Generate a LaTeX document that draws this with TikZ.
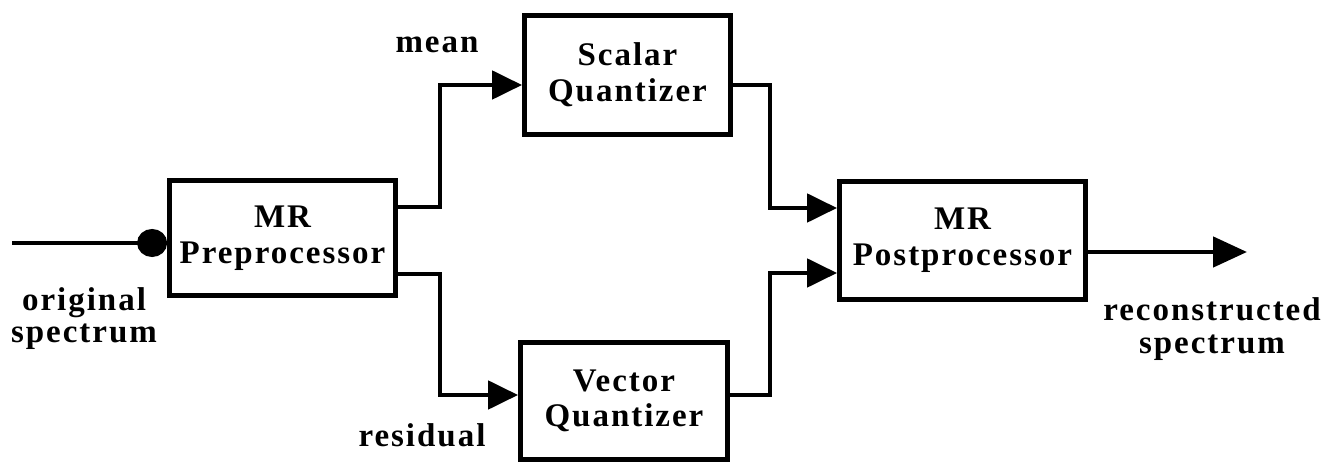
\documentclass[tikz,border=0pt]{standalone}
\usepackage{fontspec}
\setmainfont{Liberation Serif}[LetterSpace=6]
\usetikzlibrary{arrows.meta}

\tikzset{
  wire/.style={line width=2.4pt, line join=miter},
  arr/.style={wire, -{Triangle[length=15pt,width=14pt]}},
  bigarr/.style={wire, -{Triangle[length=17pt,width=15pt]}},
  dotarr/.style={wire, -{Circle[length=15pt,width=14pt]}},
  block/.style={draw, line width=2.4pt, align=center, inner sep=0pt,
    font=\fontsize{16.5pt}{17.8pt}\selectfont\bfseries},
  lbl/.style={align=center, inner sep=0pt,
    font=\fontsize{16.5pt}{16.3pt}\selectfont\bfseries}
}

\begin{document}
\begin{tikzpicture}[x=0.5pt, y=-0.5pt]
  \useasboundingbox (0,0) rectangle (1334,464);

  % processing blocks
  \node[block, minimum width=113pt, minimum height=57.5pt] (pre) at (282.5,238) {MR\\Preprocessor};
  \node[block, minimum width=103pt, minimum height=59.5pt] (sq) at (627.5,75) {Scalar\\Quantizer};
  \node[block, minimum width=103.5pt, minimum height=58.5pt] (vq) at (624,401) {Vector\\Quantizer};
  \node[block, minimum width=123pt, minimum height=59pt] (post) at (962.5,240.5) {MR\\Postprocessor};

  % routing points of the connectors
  \coordinate (in) at (12,243);
  \coordinate (uo) at (440,207);
  \coordinate (ui) at (440,85);
  \coordinate (lo) at (440,274);
  \coordinate (li) at (440,395);
  \coordinate (so) at (770,85);
  \coordinate (si) at (770,208);
  \coordinate (vo) at (770,395);
  \coordinate (vi) at (770,273);
  \coordinate (out) at (1247,252);

  % connectors
  \draw[dotarr] (in) -- (pre.west |- in);
  \draw[arr] (pre.east |- uo) -- (uo) -- (ui) -- (sq.west |- ui);
  \draw[arr] (pre.east |- lo) -- (lo) -- (li) -- (vq.west |- li);
  \draw[arr] (sq.east |- so) -- (so) -- (si) -- (post.west |- si);
  \draw[arr] (vq.east |- vo) -- (vo) -- (vi) -- (post.west |- vi);
  \draw[bigarr] (post.east |- out) -- (out);

  % labels
  \node[lbl, anchor=base] (mean) at (437,53) {mean};
  \node[lbl, anchor=base] (res) at (422,447) {residual};
  \node[lbl] (orig) at (84,318.5) {original\\spectrum};
  \node[lbl] (recon) at (1212,329) {reconstructed\\spectrum};
\end{tikzpicture}
\end{document}
